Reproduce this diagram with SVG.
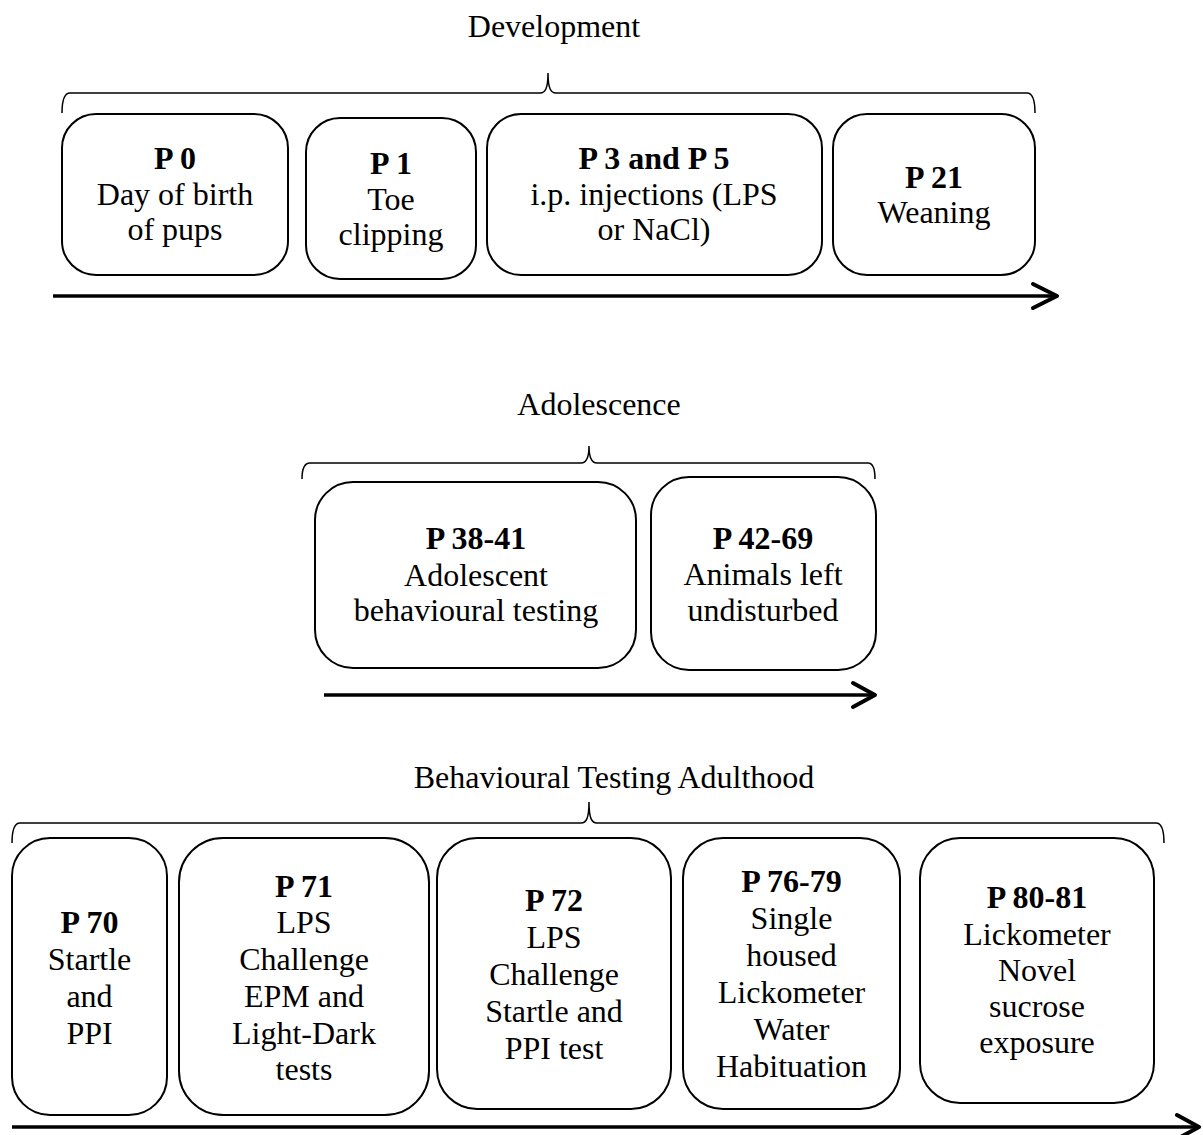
<svg xmlns="http://www.w3.org/2000/svg" width="1203" height="1135" viewBox="0 0 1203 1135">
<style>
.box{fill:#fff;stroke:#000;stroke-width:2}
.brace{fill:none;stroke:#000;stroke-width:1.5}
.axis{fill:none;stroke:#000;stroke-width:3.5}
.head{fill:none;stroke:#000;stroke-width:4;stroke-linecap:round;stroke-linejoin:round}
text{font-family:"Liberation Serif","Times New Roman",serif;font-size:32px;fill:#000;text-anchor:middle}
.b{font-weight:bold}
</style>
<rect width="1203" height="1135" fill="#fff"/>
<g id="titles">
<text x="554" y="37">Development</text>
<text x="599" y="415">Adolescence</text>
<text x="614" y="788">Behavioural Testing Adulthood</text>
</g>
<g id="connectors">
<path class="brace" d="M62,113 C62,100 64,93 70,93 L540,93 C545,93 548,89 548,73 C548,89 551,93 556,93 L1027,93 C1033,93 1035,100 1035,113"/>
<path class="axis" d="M53,296 L1055,296"/>
<path class="head" d="M1033,284 L1057,296 L1033,308"/>
<path class="brace" d="M302,479 C302,470 304,463 310,463 L581,463 C586,463 589,459 589,446 C589,459 592,463 597,463 L868,463 C873,463 875,470 875,479"/>
<path class="axis" d="M324,695 L873,695"/>
<path class="head" d="M853,683 L875,695 L853,707"/>
<path class="brace" d="M12,843 C12,832 14,823 20,823 L581,823 C586,823 589,819 589,802 C589,819 592,823 597,823 L1156,823 C1162,823 1164,832 1164,843"/>
<path class="axis" d="M12,1127 L1197,1127"/>
<path class="head" d="M1177,1115 L1199,1127 L1177,1139"/>
</g>
<g id="p0">
<rect class="box" x="62" y="114" width="226" height="161" rx="34"/>
<text x="175" y="169" class="b">P 0</text>
<text x="175" y="205">Day of birth</text>
<text x="175" y="240">of pups</text>
</g>
<g id="p1">
<rect class="box" x="306" y="118" width="170" height="161" rx="34"/>
<text x="391" y="174" class="b">P 1</text>
<text x="391" y="210">Toe</text>
<text x="391" y="245">clipping</text>
</g>
<g id="p3p5">
<rect class="box" x="487" y="114" width="335" height="161" rx="34"/>
<text x="654" y="169" class="b">P 3 and P 5</text>
<text x="654" y="205">i.p. injections (LPS</text>
<text x="654" y="240">or NaCl)</text>
</g>
<g id="p21">
<rect class="box" x="833" y="114" width="202" height="161" rx="34"/>
<text x="934" y="188" class="b">P 21</text>
<text x="934" y="223">Weaning</text>
</g>
<g id="p38">
<rect class="box" x="315" y="482" width="321" height="186" rx="38"/>
<text x="476" y="549" class="b">P 38-41</text>
<text x="476" y="586">Adolescent</text>
<text x="476" y="621">behavioural testing</text>
</g>
<g id="p42">
<rect class="box" x="651" y="477" width="225" height="193" rx="38"/>
<text x="763" y="549" class="b">P 42-69</text>
<text x="763" y="585">Animals left</text>
<text x="763" y="621">undisturbed</text>
</g>
<g id="p70">
<rect class="box" x="12" y="838" width="155" height="277" rx="38"/>
<text x="89.5" y="933" class="b">P 70</text>
<text x="89.5" y="970">Startle</text>
<text x="89.5" y="1007">and</text>
<text x="89.5" y="1044">PPI</text>
</g>
<g id="p71">
<rect class="box" x="179" y="838" width="250" height="277" rx="44"/>
<text x="304" y="897" class="b">P 71</text>
<text x="304" y="933">LPS</text>
<text x="304" y="970">Challenge</text>
<text x="304" y="1007">EPM and</text>
<text x="304" y="1044">Light-Dark</text>
<text x="304" y="1080">tests</text>
</g>
<g id="p72">
<rect class="box" x="437" y="838" width="234" height="271" rx="40"/>
<text x="554" y="911" class="b">P 72</text>
<text x="554" y="948">LPS</text>
<text x="554" y="985">Challenge</text>
<text x="554" y="1022">Startle and</text>
<text x="554" y="1059">PPI test</text>
</g>
<g id="p76">
<rect class="box" x="683" y="838" width="217" height="271" rx="40"/>
<text x="791.5" y="892" class="b">P 76-79</text>
<text x="791.5" y="929">Single</text>
<text x="791.5" y="966">housed</text>
<text x="791.5" y="1003">Lickometer</text>
<text x="791.5" y="1040">Water</text>
<text x="791.5" y="1077">Habituation</text>
</g>
<g id="p80">
<rect class="box" x="920" y="838" width="234" height="265" rx="40"/>
<text x="1037" y="908" class="b">P 80-81</text>
<text x="1037" y="945">Lickometer</text>
<text x="1037" y="981">Novel</text>
<text x="1037" y="1017">sucrose</text>
<text x="1037" y="1053">exposure</text>
</g>
</svg>
